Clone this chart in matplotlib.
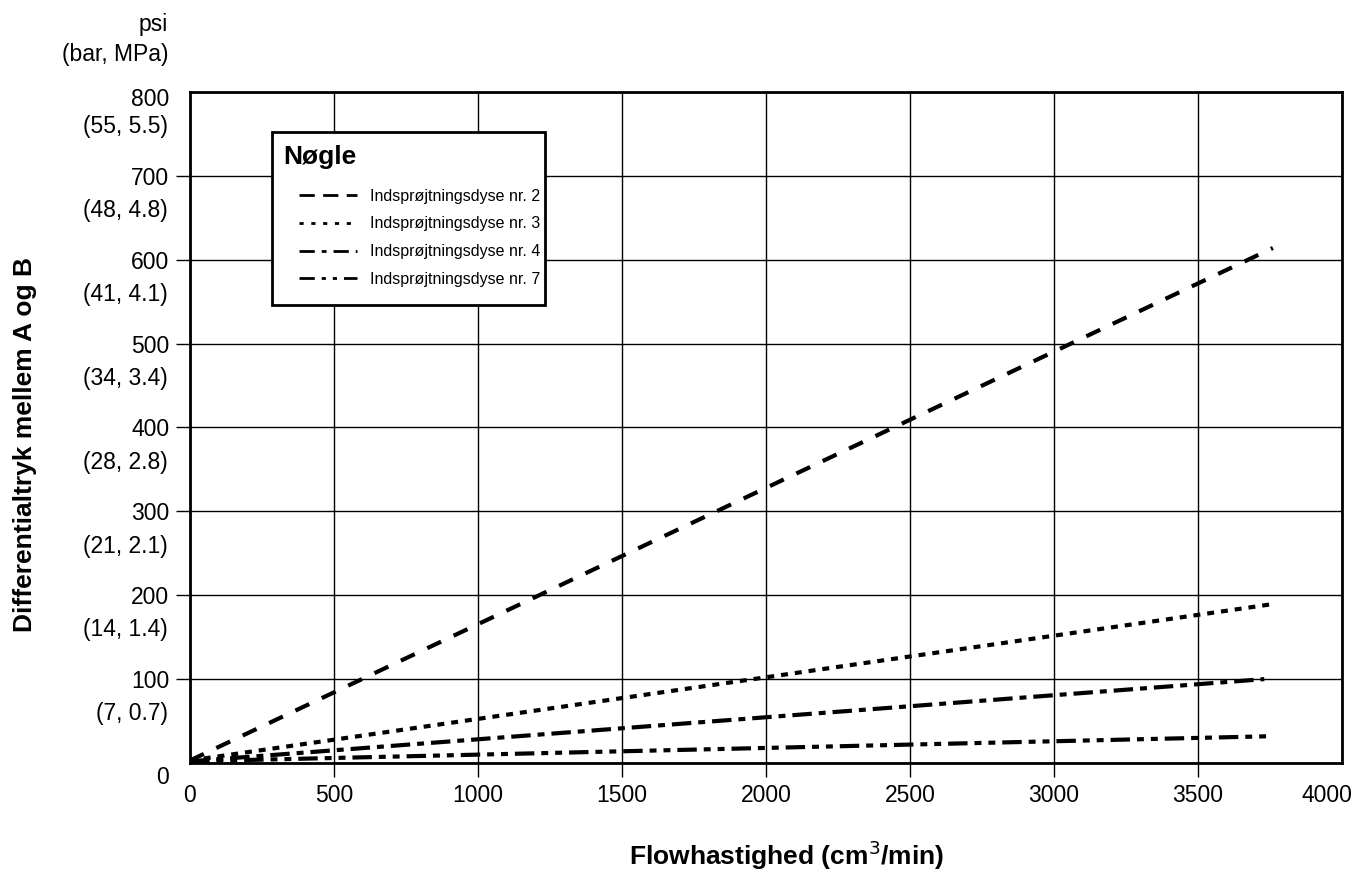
import matplotlib
matplotlib.use('Agg')
import matplotlib.pyplot as plt
import matplotlib.transforms as mtransforms
from matplotlib.lines import Line2D
from matplotlib.patches import Rectangle

plt.rcParams['font.family'] = ['Liberation Sans', 'DejaVu Sans']
plt.rcParams['lines.scale_dashes'] = False

# Data
flow_start = [0, 0, 0, 0]
flow_end = [3760, 3750, 3730, 3760]
dp_start = [3, 3, 2, 2]
dp_end = [614, 189, 100, 32]
series_names = ['Indsprøjtningsdyse nr. 2', 'Indsprøjtningsdyse nr. 3',
                'Indsprøjtningsdyse nr. 4', 'Indsprøjtningsdyse nr. 7']

y_ticks = [0, 100, 200, 300, 400, 500, 600, 700, 800]
y_sub_labels = ['', '(7, 0.7)', '(14, 1.4)', '(21, 2.1)', '(28, 2.8)',
                '(34, 3.4)', '(41, 4.1)', '(48, 4.8)', '(55, 5.5)']
x_ticks = [0, 500, 1000, 1500, 2000, 2500, 3000, 3500, 4000]

# Dash patterns in points (plot lines, legend handles)
plot_dashes = [(0, (11, 10)), (0, (5, 5)), (0, (14, 5, 5, 5)), (0, (14, 5, 5, 5, 5, 5))]
legend_dashes = [(0, (11, 6)), (0, (3, 5.5)), (0, (11, 5, 3.5, 5)), (0, (11, 5, 3, 5, 3, 5))]

fig = plt.figure(figsize=(13.59, 8.72), dpi=100)
ax = fig.add_axes([0.1398, 0.125, 0.8477, 0.7695])

for i in range(4):
    ax.plot([flow_start[i], flow_end[i]], [dp_start[i], dp_end[i]],
            color='black', linewidth=3, linestyle=plot_dashes[i],
            dash_capstyle='butt')

ax.set_xlim(0, 4000)
ax.set_ylim(0, 800)
ax.set_xticks(x_ticks)
ax.set_yticks(y_ticks)
ax.set_xticklabels([str(t) for t in x_ticks], fontsize=16.5)
ax.set_yticklabels([str(t) for t in y_ticks], fontsize=16.5)
ax.tick_params(direction='out', length=10, width=1, pad=5, color='black')
ax.grid(True, color='black', linewidth=1)
ax.set_axisbelow(True)
for s in ax.spines.values():
    s.set_linewidth(2)

# no tick marks at the corners
for tk in (ax.xaxis.get_major_ticks()[0], ax.xaxis.get_major_ticks()[-1],
           ax.yaxis.get_major_ticks()[0], ax.yaxis.get_major_ticks()[-1]):
    tk.tick1line.set_visible(False)

# small nudges of end labels
xl = ax.get_xticklabels()
xl[-1].set_transform(xl[-1].get_transform() +
                     mtransforms.ScaledTranslation(-0.15, 0, fig.dpi_scale_trans))
yl = ax.get_yticklabels()
yl[0].set_transform(yl[0].get_transform() +
                    mtransforms.ScaledTranslation(0, -0.12, fig.dpi_scale_trans))
yl[-1].set_transform(yl[-1].get_transform() +
                     mtransforms.ScaledTranslation(0, -0.05, fig.dpi_scale_trans))

# Second line of the y tick labels (bar, MPa)
for t, lab in zip(y_ticks, y_sub_labels):
    if lab:
        ax.annotate(lab, xy=(0, t), xycoords=('axes fraction', 'data'),
                    xytext=(-15.8, -25), textcoords='offset points',
                    ha='right', va='center', fontsize=16.5)

ax.annotate('psi', xy=(0, 800), xycoords=('axes fraction', 'data'),
            xytext=(-15.8, 48.5), textcoords='offset points',
            ha='right', va='center', fontsize=16.5)
ax.annotate('(bar, MPa)', xy=(0, 800), xycoords=('axes fraction', 'data'),
            xytext=(-15.8, 27), textcoords='offset points',
            ha='right', va='center', fontsize=16.5)

ax.set_xlabel('Flowhastighed (cm$^3$/min)', fontsize=19, fontweight='bold',
              va='center')
ax.xaxis.set_label_coords(0.518, -0.137)
ax.set_ylabel('Differentialtryk mellem A og B', fontsize=19, fontweight='bold',
              va='center')
ax.yaxis.set_label_coords(-0.1435, 0.474)

# Legend: frame + title drawn by hand, entries by ax.legend
ax.add_patch(Rectangle((0.0712, 0.6826), 0.237, 0.2578, transform=ax.transAxes,
                       facecolor='white', edgecolor='black', linewidth=2,
                       zorder=4))
ax.text(0.0807, 0.903, 'Nøgle', transform=ax.transAxes, fontsize=19,
        fontweight='bold', ha='left', va='center', zorder=6)

handles = [Line2D([], [], color='black', linewidth=2, linestyle=legend_dashes[i],
                  dash_capstyle='butt') for i in range(4)]
leg = ax.legend(handles, series_names, loc='upper left',
                bbox_to_anchor=(0.0946, 0.856), fontsize=11.5,
                frameon=False, handlelength=3.63, handletextpad=0.82,
                borderpad=0, labelspacing=0.8, borderaxespad=0)
leg.set_zorder(5)

fig.savefig('out.png', dpi=100)
